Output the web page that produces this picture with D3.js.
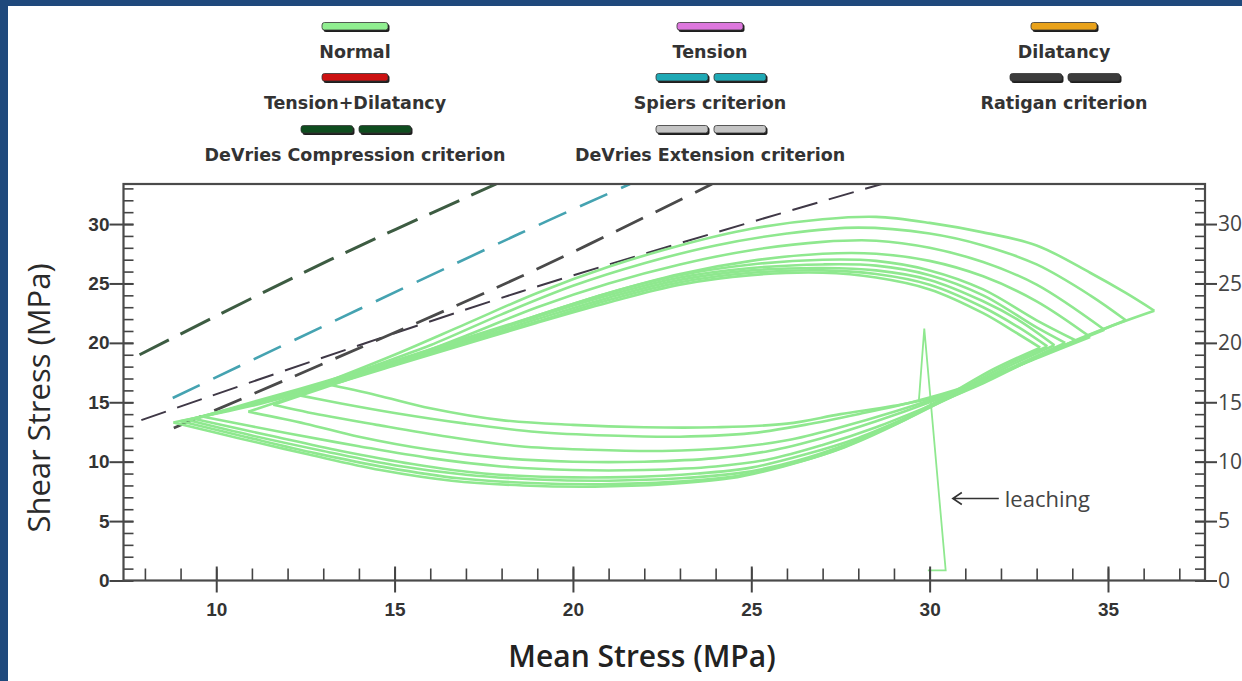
<!DOCTYPE html>
<html>
<head>
<meta charset="utf-8">
<script src="https://cdn.jsdelivr.net/npm/d3@7"></script>
<style>
  body { margin: 0; background: #fff; }
  svg { display: block; }
</style>
</head>
<body>
<svg id="chart" width="1242" height="681"></svg>
<script>
// ---- data ----
const xTicks = [10, 15, 20, 25, 30, 35];
const yTicks = [0, 5, 10, 15, 20, 25, 30];

const legendLabels = [
  ["Normal", "Tension+Dilatancy", "DeVries Compression criterion"],
  ["Tension", "Spiers criterion", "DeVries Extension criterion"],
  ["Dilatancy", "Ratigan criterion"]
];

// upper branches of each loading cycle (left -> right tip)
const upperBranches = [
  [[13.0,16.6],[15,19.0],[17,21.6],[19,24.2],[21,26.4],[23,28.2],[25,29.6],[27,30.4],[28.5,30.6],[30,30.1],[31.5,29.3],[33,28.2],[34.5,25.9],[35.5,24.2],[36.3,22.7]],
  [[12.3,15.6],[14,17.6],[16,19.8],[18,22.4],[20,24.8],[22,26.7],[24,28.2],[26,29.2],[28,29.7],[30,29.2],[31.5,28.2],[33,26.6],[34.5,24.0],[35.5,21.9]],
  [[11.6,14.8],[13,16.2],[15,18.3],[17,20.6],[19,23.0],[21,25.0],[23,26.6],[25,27.8],[27,28.5],[28.5,28.6],[30,28.0],[31.5,26.8],[33,24.9],[34.9,21.1]],
  [[10.9,14.2],[13,16.3],[15,18.2],[17,20.2],[19,22.3],[21,24.2],[23,25.8],[25,26.9],[27,27.5],[28.5,27.5],[30,26.9],[31.5,25.6],[33,23.5],[34.5,20.5]],
  [[9.6,13.8],[11,15.0],[13,16.7],[15,18.5],[17,20.4],[19,22.3],[21,24.2],[23,25.7],[25,26.6],[27,27.0],[28.5,26.9],[30,26.1],[31.5,24.5],[33,21.9],[34.1,20.2]],
  [[9.4,13.6],[11,14.9],[13,16.6],[15,18.4],[17,20.3],[19,22.2],[21,24.0],[23,25.5],[25,26.3],[27,26.6],[28.5,26.5],[30,25.7],[31.5,24.0],[33,21.3],[33.8,20.0]],
  [[9.2,13.5],[11,14.9],[13,16.5],[15,18.3],[17,20.1],[19,22.0],[21,23.8],[23,25.3],[25,26.1],[27,26.3],[28.5,26.1],[30,25.3],[31.5,23.5],[32.5,21.9],[33.5,19.8]],
  [[9.0,13.4],[11,14.8],[13,16.4],[15,18.2],[17,20.0],[19,21.8],[21,23.6],[23,25.1],[25,25.9],[27,26.1],[28.5,25.8],[30,24.9],[31.5,23.0],[32.5,21.3],[33.3,19.7]],
  [[8.8,13.3],[11,14.7],[13,16.3],[15,18.1],[17,19.9],[19,21.7],[21,23.4],[23,24.9],[25,25.7],[27,25.9],[28.5,25.5],[30,24.5],[31.5,22.5],[32.4,20.9],[33.1,19.6]]
];

// lower branches (right tip -> left)
const lowerBranches = [
  [[36.3,22.7],[35,21.3],[33.5,19.4],[32,17.5],[30.5,15.7],[29,14.7],[27.5,14.0],[26,13.2],[24,12.9],[22,12.9],[20,13.1],[18,13.5],[16,14.5],[14.5,15.6],[13.0,16.6]],
  [[35.5,21.9],[34,20.1],[32.5,18.1],[31,16.3],[29.5,15.0],[28,14.0],[26.5,13.1],[25,12.4],[23,12.1],[21,12.2],[19,12.5],[17,13.2],[15,14.1],[13.5,14.9],[12.3,15.6]],
  [[34.9,21.1],[33.5,19.4],[32,17.5],[30.5,15.7],[29,14.2],[27.5,12.9],[26,11.8],[24.5,11.2],[22.5,10.9],[20.5,11.0],[18.5,11.3],[16.5,12.1],[14.5,13.1],[13,13.9],[11.6,14.8]],
  [[34.5,20.5],[33,18.7],[31.5,16.8],[30,15.0],[28.5,13.4],[27,12.0],[25.5,10.9],[24,10.3],[22,10.0],[20,10.0],[18,10.3],[16,11.0],[14,12.1],[12.5,13.2],[10.9,14.2]],
  [[34.1,20.2],[32.8,18.5],[31.5,16.6],[30,14.7],[28.5,12.9],[27,11.4],[25.5,10.2],[24,9.6],[22,9.3],[20,9.3],[18,9.6],[16,10.3],[14,11.3],[12,12.4],[9.6,13.8]],
  [[33.8,20.0],[32.5,18.2],[31,16.0],[29.5,13.9],[28,12.0],[26.5,10.6],[25,9.5],[23.5,9.0],[21.5,8.7],[19.5,8.7],[17.5,9.0],[15.5,9.8],[13.5,10.9],[11.5,12.2],[9.4,13.6]],
  [[33.5,19.8],[32.2,18.0],[30.8,15.8],[29.3,13.5],[27.8,11.6],[26.3,10.1],[24.8,9.1],[23,8.6],[21,8.4],[19,8.5],[17,8.9],[15,9.7],[13,10.9],[11,12.2],[9.2,13.5]],
  [[33.3,19.7],[32,17.9],[30.6,15.6],[29.1,13.2],[27.6,11.2],[26.1,9.8],[24.6,8.8],[22.8,8.3],[20.8,8.1],[18.8,8.2],[16.8,8.6],[14.8,9.5],[12.8,10.7],[10.8,12.1],[9.0,13.4]],
  [[33.1,19.6],[31.8,17.8],[30.4,15.4],[28.9,13.0],[27.4,11.0],[25.9,9.6],[24.4,8.6],[22.6,8.1],[20.6,7.9],[18.6,8.0],[16.6,8.4],[14.6,9.3],[12.6,10.6],[10.6,12.0],[8.8,13.3]]
];

const leaching = [[29.7,15.2],[29.85,21.2],[30.45,0.85],[29.95,0.85]];

const devriesCompression = [[7.85,19.0],[13.2,27.0],[17.85,33.37]];
const spiers = [[8.78,15.36],[18.51,29.2],[21.6,33.37]];
const devriesExtension = [[7.9,13.5],[18.51,24.28],[28.66,33.37]];
const ratigan = [[8.81,12.84],[18.51,25.54],[23.9,33.37]];

// ---- layout ----
const svg = d3.select("#chart");
const W = 1242, H = 681;
const plot = { left: 123.5, right: 1205, top: 184, bottom: 580.5 };

svg.append("rect").attr("width", W).attr("height", H).attr("fill", "#fff");
svg.append("rect").attr("width", W).attr("height", 6).attr("fill", "#1f497c");
svg.append("rect").attr("width", 8).attr("height", H).attr("fill", "#1f497c");

const x = d3.scaleLinear().domain([7.4, 37.72]).range([plot.left, plot.right]);
const y = d3.scaleLinear().domain([0, 33.37]).range([plot.bottom, plot.top]);

svg.append("clipPath").attr("id", "clip")
  .append("rect")
  .attr("x", plot.left).attr("y", plot.top)
  .attr("width", plot.right - plot.left).attr("height", plot.bottom - plot.top);

const line = d3.line().x(d => x(d[0])).y(d => y(d[1]));
const smooth = d3.line().x(d => x(d[0])).y(d => y(d[1])).curve(d3.curveCatmullRom.alpha(0.5));

const g = svg.append("g").attr("clip-path", "url(#clip)");

// criteria (dashed)
const criteria = [
  { data: devriesCompression, color: "#3d5c42", width: 3, dash: "33 13" },
  { data: spiers, color: "#45a3b1", width: 2.6, dash: "30 15" },
  { data: devriesExtension, color: "#3f3846", width: 2, dash: "26 12" },
  { data: ratigan, color: "#4a4a4a", width: 2.8, dash: "30 14" }
];
criteria.forEach(c => {
  g.append("path")
    .datum(c.data)
    .attr("fill", "none")
    .attr("stroke", c.color)
    .attr("stroke-width", c.width)
    .attr("stroke-dasharray", c.dash)
    .attr("d", smooth);
});

// normal loading cycles
const green = "#8fe88f";
g.selectAll(".upper")
  .data(upperBranches)
  .enter().append("path")
  .attr("class", "upper")
  .attr("fill", "none")
  .attr("stroke", green)
  .attr("stroke-width", 2.6)
  .attr("d", smooth);

g.selectAll(".lower")
  .data(lowerBranches)
  .enter().append("path")
  .attr("class", "lower")
  .attr("fill", "none")
  .attr("stroke", green)
  .attr("stroke-width", 2.6)
  .attr("d", smooth);

g.append("path")
  .datum(leaching)
  .attr("fill", "none")
  .attr("stroke", green)
  .attr("stroke-width", 1.8)
  .attr("d", line);

// ---- axes ----
const axisColor = "#444";
const tickFont = "Liberation Sans, Arial, sans-serif";
const minorX = d3.range(8, 38);
const minorY = d3.range(1, 34);

// bottom: minor ticks inside
svg.append("g")
  .attr("transform", `translate(0,${plot.bottom})`)
  .call(d3.axisBottom(x).tickValues(minorX).tickSize(-12).tickFormat(""))
  .call(a => a.select(".domain").remove())
  .selectAll("line").attr("stroke", axisColor).attr("stroke-width", 1.6);

// bottom: major ticks crossing + labels
const xAxis = svg.append("g")
  .attr("transform", `translate(0,${plot.bottom})`)
  .call(d3.axisBottom(x).tickValues(xTicks).tickSize(12).tickPadding(10).tickFormat(d3.format("d")));
xAxis.select(".domain").remove();
xAxis.selectAll(".tick line").attr("y1", -14).attr("stroke", axisColor).attr("stroke-width", 2);
xAxis.selectAll("text")
  .attr("font-family", tickFont)
  .attr("font-weight", "bold").attr("font-size", 19).attr("fill", "#333");

// left: minor ticks inside
svg.append("g")
  .attr("transform", `translate(${plot.left},0)`)
  .call(d3.axisLeft(y).tickValues(minorY).tickSize(-10).tickFormat(""))
  .call(a => a.select(".domain").remove())
  .selectAll("line").attr("stroke", axisColor).attr("stroke-width", 1.6);

const yAxisL = svg.append("g")
  .attr("transform", `translate(${plot.left},0)`)
  .call(d3.axisLeft(y).tickValues(yTicks).tickSize(14).tickPadding(0).tickFormat(d3.format("d")));
yAxisL.select(".domain").remove();
yAxisL.selectAll(".tick line").attr("x2", 10).attr("x1", -14).attr("stroke", axisColor).attr("stroke-width", 2);
yAxisL.selectAll("text")
  .attr("font-family", tickFont)
  .attr("font-weight", "bold").attr("font-size", 19).attr("fill", "#333");

// right: minor ticks inside
svg.append("g")
  .attr("transform", `translate(${plot.right},0)`)
  .call(d3.axisRight(y).tickValues(minorY).tickSize(-10).tickFormat(""))
  .call(a => a.select(".domain").remove())
  .selectAll("line").attr("stroke", axisColor).attr("stroke-width", 1.6);

const yAxisR = svg.append("g")
  .attr("transform", `translate(${plot.right},0)`)
  .call(d3.axisRight(y).tickValues(yTicks).tickSize(12).tickPadding(1).tickFormat(d3.format("d")));
yAxisR.select(".domain").remove();
yAxisR.selectAll(".tick line").attr("x1", -10).attr("stroke", axisColor).attr("stroke-width", 2);
yAxisR.selectAll("text")
  .attr("font-family", "Open Sans, sans-serif")
  .attr("font-size", 21).attr("fill", "#444");

// frame
svg.append("rect")
  .attr("x", plot.left).attr("y", plot.top)
  .attr("width", plot.right - plot.left).attr("height", plot.bottom - plot.top)
  .attr("fill", "none").attr("stroke", "#4a4a4a").attr("stroke-width", 2.2);

// axis titles
svg.append("text")
  .attr("x", 642).attr("y", 667)
  .attr("text-anchor", "middle")
  .attr("font-family", "Open Sans, sans-serif")
  .attr("font-weight", 600).attr("font-size", 30).attr("fill", "#222")
  .text("Mean Stress (MPa)");

svg.append("text")
  .attr("transform", `translate(50,398) rotate(-90)`)
  .attr("text-anchor", "middle")
  .attr("font-family", "Open Sans, sans-serif")
  .attr("font-weight", 500).attr("font-size", 31).attr("fill", "#2a2a2a")
  .text("Shear Stress (MPa)");

// leaching annotation
const ax = x(30.65), ay = y(6.9);
svg.append("path")
  .attr("d", `M${ax + 46},${ay} L${ax},${ay} M${ax + 9},${ay - 6} L${ax},${ay} L${ax + 9},${ay + 6}`)
  .attr("fill", "none").attr("stroke", "#333").attr("stroke-width", 1.6);
svg.append("text")
  .attr("x", ax + 52).attr("y", ay + 8)
  .attr("font-family", "Open Sans, sans-serif")
  .attr("font-size", 22).attr("fill", "#444")
  .text("leaching");

// ---- legend ----
const legendColors = [
  ["#90ee90", "#cc1111", "#0f4d1f"],
  ["#dd77dd", "#1fa9b5", "#c4c4c4"],
  ["#e9a21a", "#3c3c3c"]
];
const legendDashed = [
  [false, false, true],
  [false, true, true],
  [false, true]
];
const colX = [355, 710, 1064];
const rowY = [27, 78, 130];

legendLabels.forEach((col, ci) => {
  col.forEach((label, ri) => {
    const cx = colX[ci], cy = rowY[ri];
    const segs = legendDashed[ci][ri]
      ? [[cx - 54, 52], [cx + 4, 52]]
      : [[cx - 33, 66]];
    segs.forEach(s => {
      svg.append("rect")
        .attr("x", s[0] + 1.5).attr("y", cy - 3).attr("width", s[1]).attr("height", 8)
        .attr("rx", 2.5).attr("fill", "#1e1e1e");
      svg.append("rect")
        .attr("x", s[0]).attr("y", cy - 4.5).attr("width", s[1]).attr("height", 7.5)
        .attr("rx", 2.5).attr("fill", legendColors[ci][ri])
        .attr("stroke", "#333").attr("stroke-width", 0.8);
    });
    svg.append("text")
      .attr("x", cx).attr("y", cy + 31)
      .attr("text-anchor", "middle")
      .attr("font-family", "DejaVu Sans, sans-serif")
      .attr("font-weight", "bold").attr("font-size", 17.5).attr("fill", "#333")
      .text(label);
  });
});
</script>
</body>
</html>
